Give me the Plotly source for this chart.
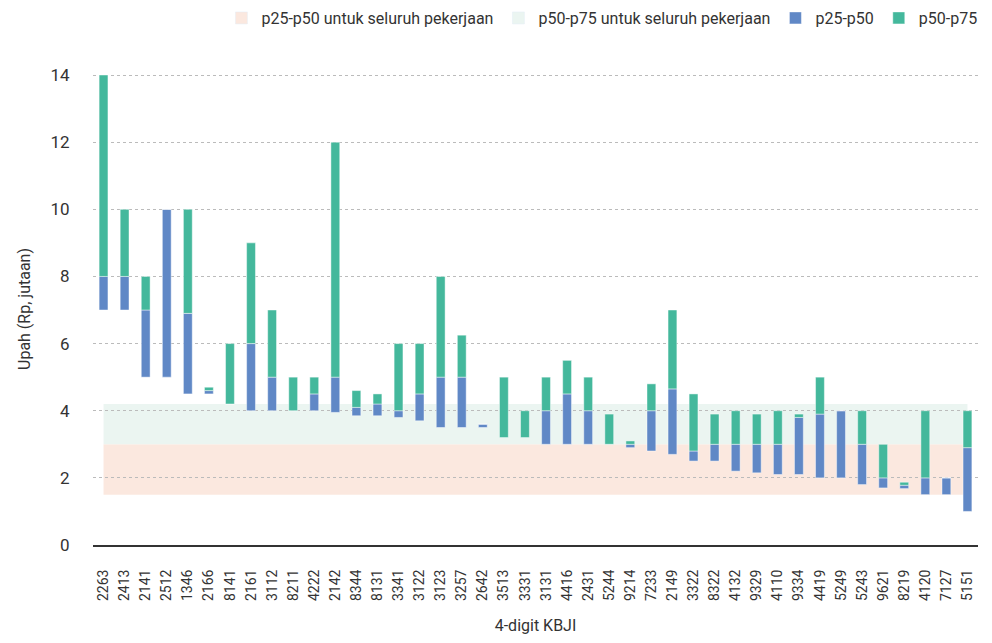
import plotly.graph_objects as go

categories = ["2263", "2413", "2141", "2512", "1346", "2166", "8141", "2161", "3112", "8211",
              "4222", "2142", "8344", "8131", "3341", "3122", "3123", "3257", "2642", "3513",
              "3331", "3131", "4416", "2431", "5244", "9214", "7233", "2149", "3322", "8322",
              "4132", "9329", "4110", "9334", "4419", "5249", "5243", "9621", "8219", "4120",
              "7127", "5151"]
p25 = [7.0, 7.0, 5.0, 5.0, 4.5, 4.5, 4.2, 4.0, 4.0, 4.0,
       4.0, 3.95, 3.85, 3.85, 3.8, 3.7, 3.5, 3.5, 3.5, 3.2,
       3.2, 3.0, 3.0, 3.0, 3.0, 2.9, 2.8, 2.7, 2.5, 2.5,
       2.2, 2.15, 2.1, 2.1, 2.0, 2.0, 1.8, 1.7, 1.68, 1.5,
       1.5, 1.0]
p50 = [8.0, 8.0, 7.0, 10.0, 6.9, 4.6, 4.2, 6.0, 5.0, 4.0,
       4.5, 5.0, 4.1, 4.2, 4.0, 4.5, 5.0, 5.0, 3.6, 3.2,
       3.2, 4.0, 4.5, 4.0, 3.0, 3.0, 4.0, 4.65, 2.8, 3.0,
       3.0, 3.0, 3.0, 3.8, 3.9, 4.0, 3.0, 2.0, 1.78, 2.0,
       2.0, 2.9]
p75 = [14.0, 10.0, 8.0, 10.0, 10.0, 4.7, 6.0, 9.0, 7.0, 5.0,
       5.0, 12.0, 4.6, 4.5, 6.0, 6.0, 8.0, 6.25, 3.6, 5.0,
       4.0, 5.0, 5.5, 5.0, 3.9, 3.1, 4.8, 7.0, 4.5, 3.9,
       4.0, 3.9, 4.0, 3.9, 5.0, 4.0, 4.0, 3.0, 1.87, 4.0,
       2.0, 4.0]

# Whole-occupation reference bands
all_p25 = 1.5
all_p50 = 3.0
all_p75 = 4.2

BLUE = "#6088C6"
GREEN = "#44B89C"
PINK_BAND = "#FBE8DF"
GREEN_BAND = "#EBF5F1"
FONT = "Roboto, sans-serif"

fig = go.Figure()

# legend-only entries for the bands
fig.add_trace(go.Bar(x=[categories[0]], y=[None], name="p25-p50 untuk seluruh pekerjaan",
                     marker=dict(color=PINK_BAND), showlegend=True, hoverinfo="skip"))
fig.add_trace(go.Bar(x=[categories[0]], y=[None], name="p50-p75 untuk seluruh pekerjaan",
                     marker=dict(color=GREEN_BAND), showlegend=True, hoverinfo="skip"))

fig.add_trace(go.Bar(
    x=categories, y=[b - a for a, b in zip(p25, p50)], base=p25, name="p25-p50",
    marker=dict(color=BLUE, line=dict(color="rgba(255,255,255,0.45)", width=1)),
    width=0.42,
))
fig.add_trace(go.Bar(
    x=categories, y=[c - b for b, c in zip(p50, p75)], base=p50, name="p50-p75",
    marker=dict(color=GREEN, line=dict(color="rgba(255,255,255,0.45)", width=1)),
    width=0.42,
))

n = len(categories)
fig.add_shape(type="rect", xref="x", yref="y", x0=0, x1=n - 1, y0=all_p25, y1=all_p50,
              fillcolor=PINK_BAND, line=dict(width=0), layer="below")
fig.add_shape(type="rect", xref="x", yref="y", x0=0, x1=n - 1, y0=all_p50, y1=all_p75,
              fillcolor=GREEN_BAND, line=dict(width=0), layer="below")

fig.update_layout(
    width=976, height=627,
    margin=dict(l=85, r=6, t=65, b=90, autoexpand=False),
    paper_bgcolor="white", plot_bgcolor="white",
    barmode="overlay",
    font=dict(family=FONT, size=15, color="#333333"),
    legend=dict(orientation="h", x=1.005, xanchor="right", y=1.1165, yanchor="middle",
                font=dict(size=16), itemwidth=30, traceorder="normal"),
    xaxis=dict(type="category", tickangle=-90, showgrid=False, showline=True,
               linecolor="#333333", linewidth=2, ticks="outside", ticklen=17,
               tickcolor="rgba(0,0,0,0)", tickfont=dict(size=14), automargin=True,
               title=dict(text="4-digit KBJI", font=dict(size=16), standoff=26),
               range=[-0.5, n - 0.5]),
    yaxis=dict(range=[0, 14.06], dtick=2, showgrid=True, gridcolor="#BBBBBB",
               griddash="dot", gridwidth=1, zeroline=False, showline=False,
               ticks="outside", ticklen=19, tickcolor="rgba(0,0,0,0)",
               tickfont=dict(size=17), automargin=False,
               title=dict(text="Upah (Rp, jutaan)", font=dict(size=16))),
)

fig.write_html("out.html")
